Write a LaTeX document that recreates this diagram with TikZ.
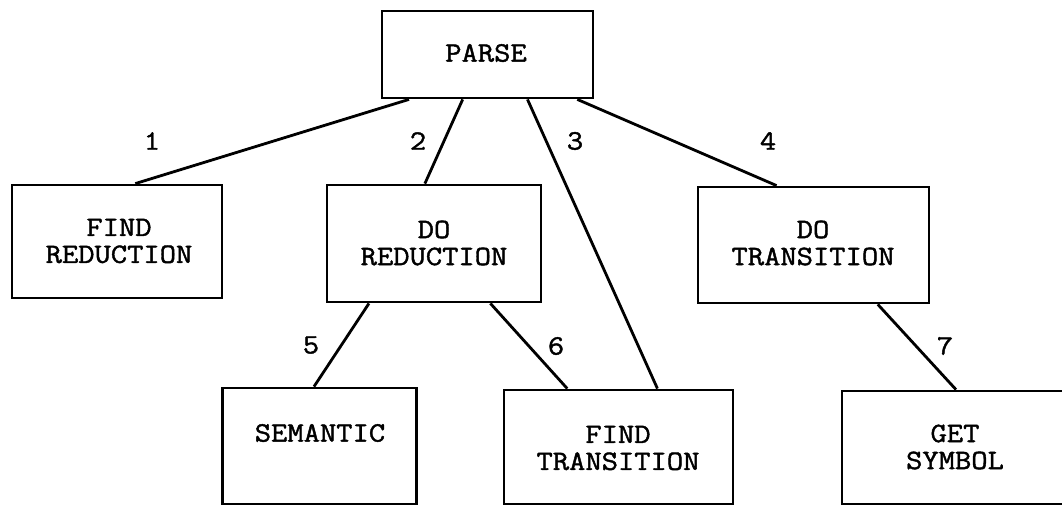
\documentclass[tikz,border=0pt]{standalone}
\usepackage{fontspec}
\newfontfamily\cour[FakeStretch=1.13,FakeBold=1.5]{Latin Modern Mono}
\usetikzlibrary{calc}
\tikzset{
  box/.style={draw, line width=2.8bp, rectangle, inner sep=0pt},
  lbl/.style={font=\cour\fontsize{28bp}{27bp}\selectfont, align=center, inner sep=0pt},
  num/.style={font=\cour\fontsize{28bp}{27bp}\selectfont, inner sep=0pt},
  conn/.style={line width=2.8bp}
}
\begin{document}
\begin{tikzpicture}[x=1bp,y=-1bp]
\useasboundingbox (0,0) rectangle (1062,506);
\clip (0,0) rectangle (1062,506);
% boxes
\node[box, minimum width=211bp, minimum height=87bp] (parse) at (487.5,54.5) {};
\node[box, minimum width=210bp, minimum height=113bp] (findred) at (117,241.5) {};
\node[box, minimum width=214bp, minimum height=117bp] (dored) at (434,243.5) {};
\node[box, minimum width=231bp, minimum height=116bp] (dotrans) at (813.5,245) {};
\node[box, minimum width=194bp, minimum height=116bp] (sem) at (319.5,446) {};
\node[box, minimum width=229bp, minimum height=114bp] (findtrans) at (618.5,447) {};
\node[box, minimum width=228bp, minimum height=113bp] (getsym) at (956,447.5) {};
% texts
\node[lbl] (tparse) at (486,53) {PARSE};
\node[lbl] (tfindred) at (119,241) {FIND\\REDUCTION};
\node[lbl] (tdored) at (434,243) {DO\\REDUCTION};
\node[lbl] (tdotrans) at (813,243) {DO\\TRANSITION};
\node[lbl] (tsem) at (320,433) {SEMANTIC};
\node[lbl] (tfindtrans) at (618,448) {FIND\\TRANSITION};
\node[lbl] (tgetsym) at (955,447) {GET\\SYMBOL};
% connectors
\draw[conn] ($(parse.south west)!0.133!(parse.south east)$) -- ($(findred.north west)!0.586!(findred.north east)$);
\draw[conn] ($(parse.south west)!0.384!(parse.south east)$) -- ($(dored.north west)!0.458!(dored.north east)$);
\draw[conn] ($(parse.south west)!0.687!(parse.south east)$) -- ($(findtrans.north west)!0.668!(findtrans.north east)$);
\draw[conn] ($(parse.south west)!0.92!(parse.south east)$) -- ($(dotrans.north west)!0.342!(dotrans.north east)$);
\draw[conn] ($(dored.south west)!0.2!(dored.south east)$) -- ($(sem.north west)!0.472!(sem.north east)$);
\draw[conn] ($(dored.south west)!0.76!(dored.south east)$) -- ($(findtrans.north west)!0.279!(findtrans.north east)$);
\draw[conn] ($(dotrans.south west)!0.775!(dotrans.south east)$) -- ($(getsym.north west)!0.5!(getsym.north east)$);
% numbers
\node[num] (n1) at (152,141) {1};
\node[num] (n2) at (418,141) {2};
\node[num] (n3) at (575,141) {3};
\node[num] (n4) at (768,141) {4};
\node[num] (n5) at (311,345) {5};
\node[num] (n6) at (556,346) {6};
\node[num] (n7) at (945,346) {7};
\end{tikzpicture}
\end{document}
